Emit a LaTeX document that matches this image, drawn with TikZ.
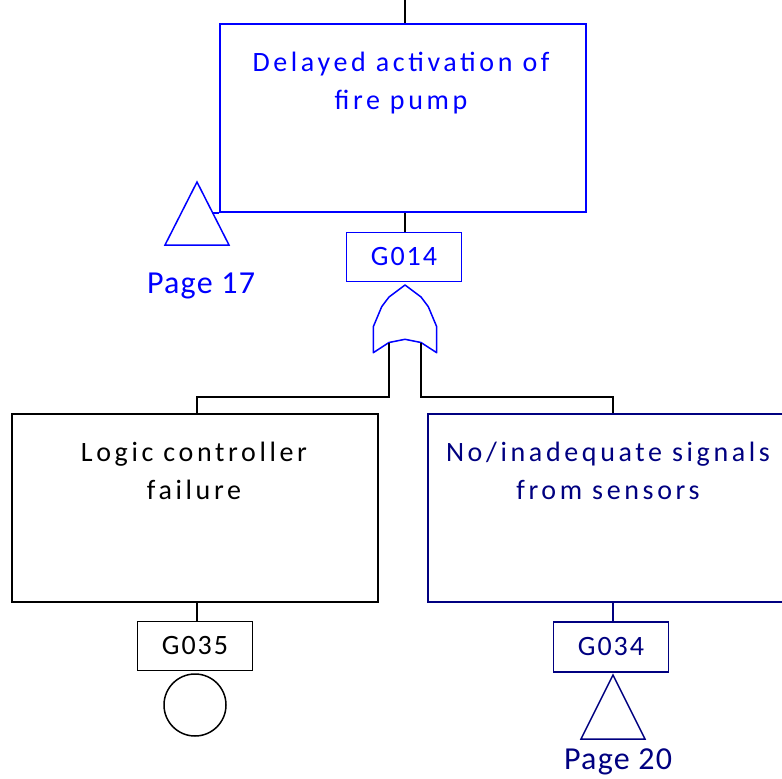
\documentclass[tikz,border=0pt]{standalone}
\usepackage{fontspec}
\setmainfont{Carlito}[LetterSpace=13]
\newfontfamily\gatefont{Carlito}[LetterSpace=7]
\newfontfamily\pagefont{Carlito}[LetterSpace=4]
\definecolor{ftblue}{RGB}{0,0,255}
\definecolor{ftnavy}{RGB}{0,0,128}
\begin{document}
\begin{tikzpicture}[x=1pt,y=-1pt,line width=1.5pt,
  evbox/.style={draw,rectangle,inner sep=0pt},
  gatebox/.style={draw,rectangle,inner sep=0pt,minimum width=115pt,minimum height=49pt,font=\gatefont\fontsize{28}{32}\selectfont},
  evtext/.style={align=center,inner sep=0pt,anchor=base,font=\fontsize{28}{38}\selectfont},
  pagetext/.style={inner sep=0pt,anchor=base,font=\pagefont\fontsize{32}{36}\selectfont}]
\useasboundingbox (0,0) rectangle (782,779);
% top event
\coordinate (top) at (405,0);
\node[evbox,ftblue,minimum width=366pt,minimum height=188pt] (topbox) at (403,118) {};
\node[evtext,text=ftblue] (toptext) at (401,109) {Delayed activation of\\fire pump};
\draw (top) -- (top|-topbox.north);
\draw[ftblue] (topbox.south west) -- ++(-7,0);
\node[gatebox,ftblue,text=ftblue] (g014) at (404,257) {G014};
\draw (topbox.south-|405,0) -- (g014.north-|405,0);
% transfer triangle page 17
\coordinate (t1a) at (197,182);
\coordinate (t1b) at (165,245);
\coordinate (t1c) at (229,245);
\draw[ftblue] (t1a) -- (t1b) -- (t1c) -- cycle;
\node[pagetext,text=ftblue] (p17) at (201,293) {Page 17};
% OR gate
\coordinate (orTop) at (405,285);
\coordinate (inL) at (389,342.5);
\coordinate (inR) at (421,342.5);
\draw[ftblue,line join=round] (orTop) -- (389,297) -- (381.7,306.7) -- (373.3,326.7) -- (373.3,352.7)
  -- (inL) -- (405,339.3) -- (inR) -- (436.7,352.7) -- (436.7,326.7) -- (428.3,306.7) -- (421,297) -- cycle;
% left event
\node[evbox,minimum width=366pt,minimum height=188pt] (lbox) at (195,508) {};
\node[evtext] (ltext) at (194,499.5) {Logic controller\\failure};
\node[gatebox] (g035) at (195,646) {G035};
\draw (g035.north-|197,0) -- (lbox.south-|197,0);
\node[draw,circle,minimum size=62pt,inner sep=0pt] (circ) at (195,705) {};
% right event
\node[evbox,ftnavy,minimum width=370pt,minimum height=188pt] (rbox) at (613,508) {};
\node[evtext,text=ftnavy] (rtext) at (608,499.5) {No/inadequate signals\\from sensors};
\node[gatebox,ftnavy,text=ftnavy,minimum height=50pt] (g034) at (611,647) {G034};
\draw[ftnavy] (g034.north-|613,0) -- (rbox.south-|613,0);
\coordinate (t2a) at (613,675);
\coordinate (t2b) at (581,739);
\coordinate (t2c) at (645,739);
\draw[ftnavy] (t2a) -- (t2b) -- (t2c) -- cycle;
\node[pagetext,text=ftnavy] (p20) at (618,769) {Page 20};
% gate inputs
\draw (inL) -- (389,397) -| (lbox.north-|197,0);
\draw (inR) -- (421,397) -| (rbox.north-|613,0);
\end{tikzpicture}
\end{document}
